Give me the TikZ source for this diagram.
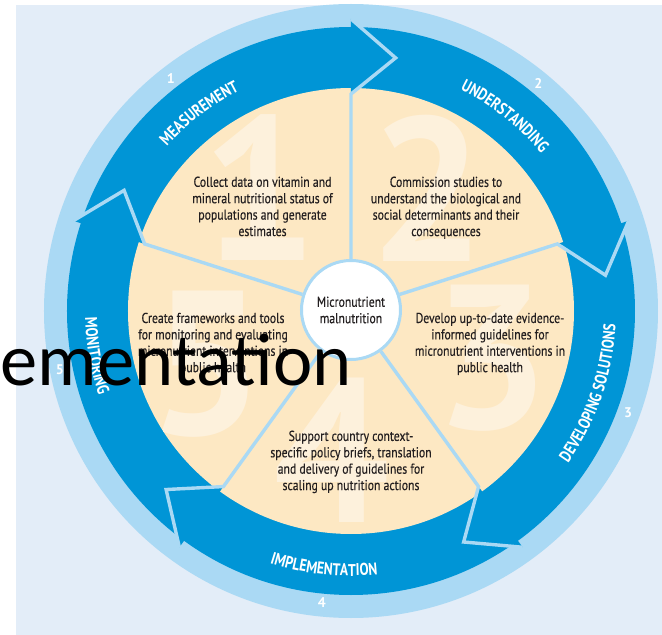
\documentclass[tikz,border=0pt]{standalone}
\usepackage{fontspec}
\setmainfont{PT Sans}
\newfontfamily\bodyfont{PT Sans}[FakeStretch=0.82, FakeBold=0.35]
\newfontfamily\boldcond{PT Sans}[FakeStretch=0.8]
\newfontfamily\digitfont{PT Sans}
\newfontfamily\overlayfont{Carlito}
\usetikzlibrary{decorations.text}

\definecolor{pagebg}{HTML}{E3EDF8}
\definecolor{ringlight}{HTML}{AAD9F4}
\definecolor{ringdark}{HTML}{0095D6}
\definecolor{sand}{HTML}{FDE8C3}
\definecolor{sandlight}{HTML}{FDF1DC}
\definecolor{ink}{HTML}{231F20}

\newcommand\lblfont{\boldcond\bfseries\fontsize{17pt}{17pt}\selectfont}

\begin{document}
\begin{tikzpicture}[x=1pt,y=1pt,
  sector/.style={font=\bodyfont\fontsize{14.3pt}{16.4pt}\selectfont, text=ink, align=center, inner sep=0pt},
  bignum/.style={font=\digitfont\bfseries\fontsize{205pt}{205pt}\selectfont, text=sandlight, inner sep=0pt},
  stepnum/.style={font=\digitfont\bfseries\fontsize{14pt}{14pt}\selectfont, text=white, inner sep=0pt},
  divider/.style={draw=ringlight, line width=3.4pt, line join=miter},
  headfill/.style={fill=ringdark},
  ringlabel/.style={decorate, decoration={text along path, text align=center, text color=white, text={|\lblfont|#1}}}
]
\useasboundingbox (-351,-324) rectangle (311,311);
\fill[white] (-351,-324) rectangle (311,311);
\fill[pagebg] (-335,-324) rectangle (311,306);

% concentric rings
\fill[ringlight] (0,0) circle[radius=307pt];
\fill[ringdark] (0,0) circle[radius=284pt];
\fill[sand] (0,0) circle[radius=223pt];

% large faded step numbers behind the sector texts
\begin{scope}
  \clip (0,0) circle[radius=223pt];
  \node[bignum] (big1) at (-91,123) {1};
  \node[bignum] (big2) at (77,123) {2};
  \node[bignum] (big3) at (141,-47) {3};
  \node[bignum] (big4) at (-19,-139) {4};
  \node[bignum] (big5) at (-144,-53) {5};
\end{scope}

% arrow heads at the five boundaries (clockwise cycle)
\foreach \i/\a in {1/90, 2/18, 3/-54, 4/-126, 5/162} {
  \coordinate (in\i) at (\a:217pt);
  \coordinate (tip\i) at (\a-10:257pt);
  \coordinate (out\i) at (\a:292pt);
  \fill[headfill] (in\i) -- (tip\i) -- (out\i) -- cycle;
}

% central node
\node[circle, draw=ringlight, line width=3pt, fill=white, minimum size=99pt,
      sector] (core) at (0,1) {Micronutrient\\malnutrition};

% dividers running from the centre into each arrow head outline
\foreach \i in {1,...,5} {
  \draw[divider] (core) -- (in\i) -- (tip\i) -- (out\i);
}

% sector texts
\node[sector] (s1) at (-88.5,104.6) {Collect data on vitamin and\\mineral nutritional status of\\populations and generate\\estimates};
\node[sector] (s2) at (95,103.2) {Commission studies to\\understand the biological and\\social determinants and their\\consequences};
\node[sector] (s3) at (139,-32.9) {Develop up-to-date evidence-\\informed guidelines for\\micronutrient interventions in\\public health};
\node[sector] (s4) at (0,-150.9) {Support country context-\\specific policy briefs, translation\\and delivery of guidelines for\\scaling up nutrition actions};
\node[sector] (s5) at (-138,-32.9) {Create frameworks and tools\\for monitoring and evaluating\\micronutrient interventions in\\public health};

% stage names along the ring
\path[ringlabel=MEASUREMENT] (172.5:247pt) arc[start angle=172.5, end angle=82.5, radius=247pt];
\path[ringlabel=UNDERSTANDING] (96.7:247pt) arc[start angle=96.7, end angle=6.7, radius=247pt];
\path[ringlabel={DEVELOPING SOLUTIONS}] (-74:265pt) arc[start angle=-74, end angle=36, radius=265pt];
\path[ringlabel=IMPLEMENTATION] (-146:265pt) arc[start angle=-146, end angle=-46, radius=265pt];
\path[ringlabel=MONITORING] (140:266pt) arc[start angle=140, end angle=240, radius=266pt];

% stage numbers in the outer band
\node[stepnum] (n1) at (127.8:294pt) {1};
\node[stepnum] (n2) at (50.6:295pt) {2};
\node[stepnum] (n3) at (-20.1:295pt) {3};
\node[stepnum] (n4) at (-95.7:293pt) {4};
\node[stepnum] (n5) at (191.4:297pt) {5};

% overlaid caption fragment
\node[font=\overlayfont\fontsize{74.5pt}{74.5pt}\selectfont, anchor=base west, inner sep=0pt] (overlay) at (-350.6,-74) {ementation};
\end{tikzpicture}
\end{document}
